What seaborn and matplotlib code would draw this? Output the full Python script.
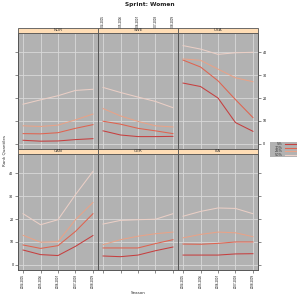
import matplotlib
matplotlib.use("Agg")
import matplotlib.pyplot as plt
import seaborn as sns
import pandas as pd
from matplotlib.patches import Rectangle

seasons = ["2004-2005", "2005-2006", "2006-2007", "2007-2008", "2008-2009"]
quantiles = ["5%", "10%", "25%", "50%"]
countries = ["NOR", "SWE", "USA", "CAN", "GER", "ITA"]

nor_5 = [1.6, 1.2, 1.3, 1.9, 2.3]
nor_10 = [4.5, 4.4, 4.9, 6.8, 8.4]
nor_25 = [7.9, 7.6, 8.2, 10.5, 13.0]
nor_50 = [17.3, 19.2, 21.0, 23.3, 23.8]

swe_5 = [5.7, 3.9, 3.2, 3.2, 3.3]
swe_10 = [9.9, 8.6, 6.8, 5.7, 4.5]
swe_25 = [15.4, 12.2, 9.8, 7.9, 7.4]
swe_50 = [24.6, 22.4, 20.4, 18.5, 15.8]

usa_5 = [26.5, 25.0, 20.0, 9.3, 5.5]
usa_10 = [36.5, 33.5, 27.5, 19.3, 11.5]
usa_25 = [37.0, 36.4, 32.6, 28.8, 27.1]
usa_50 = [42.8, 41.3, 39.0, 39.7, 39.9]

can_5 = [6.5, 4.5, 4.1, 8.1, 12.8]
can_10 = [8.7, 7.2, 8.4, 14.6, 22.3]
can_25 = [12.9, 9.9, 10.1, 19.7, 27.2]
can_50 = [22.3, 17.5, 19.7, 30.6, 40.7]

ger_5 = [3.9, 3.6, 4.3, 6.2, 7.8]
ger_10 = [7.4, 7.4, 7.4, 9.3, 11.0]
ger_25 = [8.8, 11.0, 12.5, 13.6, 14.3]
ger_50 = [17.8, 19.4, 19.7, 19.9, 22.3]

ita_5 = [4.3, 4.3, 4.3, 4.8, 4.9]
ita_10 = [9.1, 9.0, 9.4, 10.0, 10.0]
ita_25 = [11.8, 13.3, 14.3, 14.0, 12.3]
ita_50 = [21.2, 23.3, 24.8, 24.6, 22.3]

data = {
    "NOR": [nor_5, nor_10, nor_25, nor_50],
    "SWE": [swe_5, swe_10, swe_25, swe_50],
    "USA": [usa_5, usa_10, usa_25, usa_50],
    "CAN": [can_5, can_10, can_25, can_50],
    "GER": [ger_5, ger_10, ger_25, ger_50],
    "ITA": [ita_5, ita_10, ita_25, ita_50],
}

rows = []
for c in countries:
    for q, vals in zip(quantiles, data[c]):
        for i, v in enumerate(vals):
            rows.append({"country": c, "quantile": q, "x": i + 1, "value": v})
df = pd.DataFrame(rows)

palette = {"5%": "#C63F3F", "10%": "#E0634F", "25%": "#E9A287", "50%": "#EBCFC6"}
bg = "#B2B2B2"
grid_c = "#D9D9D9"
strip_c = "#FFDDB5"
frame_c = "#555555"

fig = plt.figure(figsize=(3, 3), dpi=100)
fig.patch.set_facecolor("white")

W, H = 300.0, 300.0
left = 18
pw = 80
row_tops = [33, 154]
ph = 116
strip_h = 5

tick_fs = 1.9
for idx, c in enumerate(countries):
    r, col = divmod(idx, 3)
    x0 = left + col * pw
    y0 = row_tops[r]
    ax = fig.add_axes([x0 / W, 1 - (y0 + ph) / H, pw / W, ph / H])
    ax.set_facecolor(bg)
    sub = df[df["country"] == c]
    sns.lineplot(data=sub, x="x", y="value", hue="quantile", hue_order=quantiles,
                 palette=palette, ax=ax, legend=False, linewidth=0.75)
    ax.set_xlim(0.71, 5.29)
    ax.set_ylim(-2.2, 48.3)
    ax.set_xticks(range(1, 6))
    ax.set_yticks([0, 10, 20, 30, 40])
    ax.grid(True, color=grid_c, linewidth=0.6)
    ax.set_axisbelow(True)
    for s in ax.spines.values():
        s.set_color(frame_c)
        s.set_linewidth(0.7)
    ax.set_xlabel("")
    ax.set_ylabel("")
    ax.tick_params(length=2, width=0.4, color="#333333", labelsize=tick_fs, pad=1.2)
    top_labels = (r == 0 and col == 1)
    bottom_labels = (r == 1 and col in (0, 2))
    ax.tick_params(axis="x", top=(r == 0), bottom=(r == 1),
                   labeltop=top_labels, labelbottom=bottom_labels)
    ax.set_xticklabels(seasons, rotation=90)
    ax.tick_params(axis="y", left=(col == 0), right=(col == 2),
                   labelleft=(col == 0 and r == 1), labelright=(col == 2 and r == 0),
                   labelsize=2.3)
    ax.add_patch(Rectangle((0, 1), 1, strip_h / ph, transform=ax.transAxes,
                           facecolor=strip_c, edgecolor=frame_c, linewidth=0.6,
                           clip_on=False, zorder=5))
    ax.text(0.5, 1 + strip_h / ph / 2, c, transform=ax.transAxes, ha="center",
            va="center", fontsize=3, color="#333333", zorder=6)

fig.text(0.5, 1 - 4.5 / H, "Sprint: Women", ha="center", va="center",
         fontsize=4.2, fontweight="bold", color="#222222")
fig.text(138 / W, 1 - 293 / H, "Season", ha="center", va="center",
         fontsize=3, color="#333333")
fig.text(5 / W, 1 - 150 / H, "Rank Quantiles", ha="center", va="center",
         rotation=90, fontsize=3, color="#333333")

lax = fig.add_axes([270 / W, 1 - 157 / H, 27 / W, 15 / H])
lax.set_facecolor(bg)
for s in lax.spines.values():
    s.set_visible(False)
lax.set_xticks([])
lax.set_yticks([])
lax.set_xlim(0, 1)
lax.set_ylim(0, 1)
for i, q in enumerate(quantiles):
    yy = 0.85 - i * 0.23
    lax.text(0.45, yy, q, ha="right", va="center", fontsize=2.5, color="#333333")
    lax.plot([0.55, 0.95], [yy, yy], color=palette[q], linewidth=0.8)

fig.savefig("out.png", dpi=100)
